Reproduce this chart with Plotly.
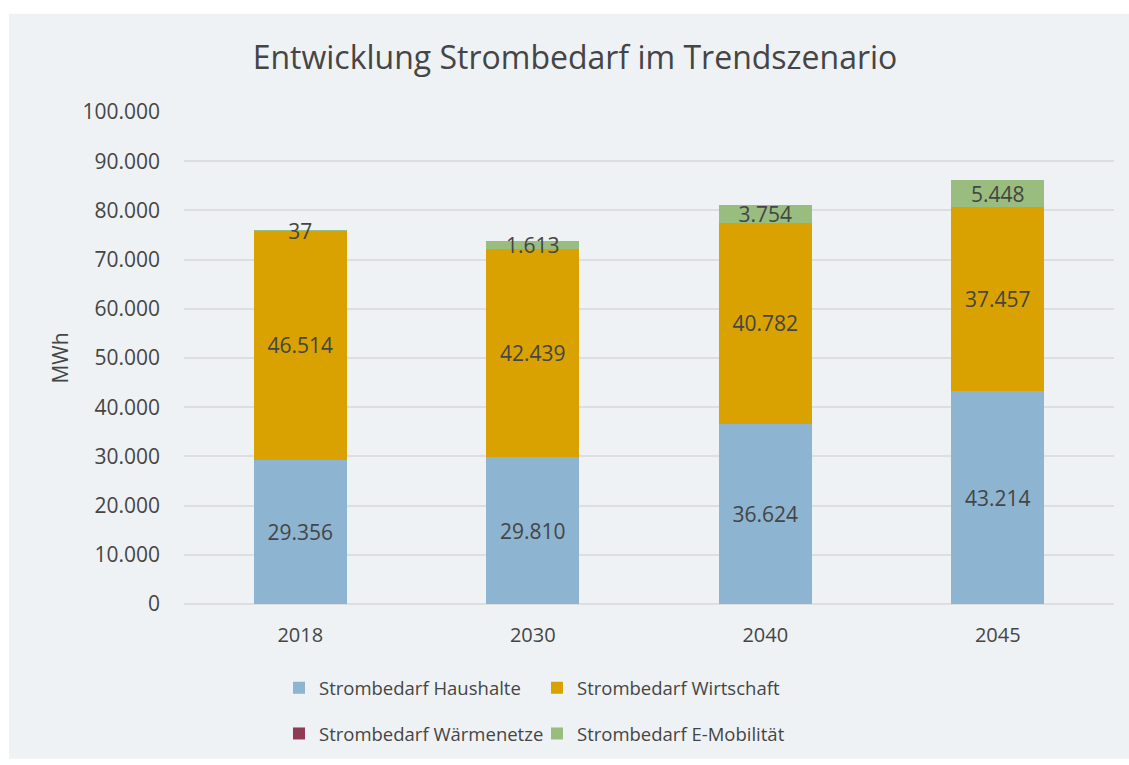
import plotly.graph_objects as go

years = ["2018", "2030", "2040", "2045"]
haushalte = [29356, 29810, 36624, 43214]
wirtschaft = [46514, 42439, 40782, 37457]
waermenetze = [0, 0, 0, 0]
emobilitaet = [37, 1613, 3754, 5448]

names = ["Strombedarf Haushalte", "Strombedarf Wirtschaft",
         "Strombedarf Wärmenetze", "Strombedarf E-Mobilität"]
colors = ["#8db4d0", "#d9a200", "#8e3b53", "#98bd7e"]

TXT = "#454545"
BG = "#eef2f5"
FONT = "Open Sans"

fig = go.Figure()
series = [haushalte, wirtschaft, waermenetze, emobilitaet]
legends = ["legend", "legend", "legend2", "legend2"]
for i, (vals, nm, col, lg) in enumerate(zip(series, names, colors, legends)):
    show_text = i != 2
    fig.add_trace(go.Bar(
        x=years, y=vals, name=nm, marker=dict(color=col, line=dict(width=0)),
        texttemplate="%{y:,d}" if show_text else "",
        textposition="inside" if show_text else "none",
        insidetextanchor="middle",
        constraintext="none",
        textangle=0,
        textfont=dict(family=FONT, size=21, color=TXT),
        legend=lg,
        hoverinfo="x+y+name",
    ))

L, R, T, B = 184, 1114, 112, 608
W, H = 1129, 765
pw, ph = R - L, B - T

def px_x(p):
    return (p - L) / pw

def px_y(p):
    return (B - p) / ph

fig.add_shape(type="rect", xref="paper", yref="paper", layer="below",
              x0=px_x(9), x1=px_x(W), y0=px_y(H - 1), y1=px_y(13),
              fillcolor=BG, line=dict(width=0))

fig.update_layout(
    width=W, height=H,
    margin=dict(l=L, r=W - R, t=T, b=H - B, pad=0),
    paper_bgcolor="white", plot_bgcolor=BG,
    separators=",.",
    barmode="stack", bargap=0.6,
    font=dict(family=FONT, size=20, color=TXT),
    title=dict(text="Entwicklung Strombedarf im Trendszenario",
               font=dict(family=FONT, size=32, color=TXT),
               x=575 / W, xref="container", xanchor="center",
               y=1 - 58 / H, yref="container", yanchor="middle"),
    xaxis=dict(type="category", showgrid=False, ticks="", showline=False,
               tickfont=dict(size=20, color=TXT), ticklabelstandoff=17),
    yaxis=dict(range=[0, 100000], dtick=10000, tickformat=",d",
               showgrid=True, gridcolor="#dedede", gridwidth=1.5,
               zeroline=True, zerolinecolor="#dedede", zerolinewidth=1.5,
               ticks="", tickfont=dict(size=21, color=TXT),
               ticklabelstandoff=23,
               title=dict(text="MWh", font=dict(size=21, color=TXT), standoff=8)),
    legend=dict(orientation="h", x=px_x(279), xanchor="left",
                y=px_y(693), yanchor="middle", entrywidth=213,
                bgcolor="rgba(0,0,0,0)", font=dict(size=18.5, color=TXT),
                traceorder="normal"),
    legend2=dict(orientation="h", x=px_x(279), xanchor="left",
                 y=px_y(739), yanchor="middle", entrywidth=213,
                 bgcolor="rgba(0,0,0,0)", font=dict(size=18.5, color=TXT),
                 traceorder="normal"),
    showlegend=True,
)

fig.write_html(
    "out.html", config={"displayModeBar": False},
    post_script=(
        "document.documentElement.style.margin='0';"
        "document.documentElement.style.overflow='hidden';"
        "document.body.style.margin='0';"
        "document.body.style.overflow='hidden';"
    ),
)
